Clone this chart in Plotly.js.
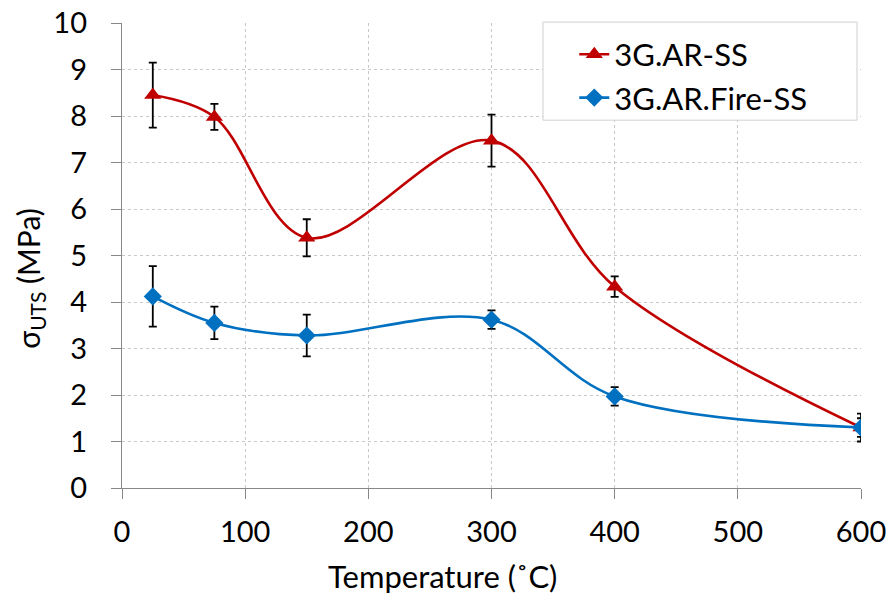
<!DOCTYPE html>
<html>
<head>
<meta charset="utf-8">
<script src="https://cdn.plot.ly/plotly-3.0.1.min.js"></script>
<style>html,body{margin:0;padding:0;background:#fff;}#chart{width:890px;height:596px;}</style>
</head>
<body>
<div id="chart"></div>
<script>
const temperature = [25, 75, 150, 300, 400, 600];
const arSS = [8.45, 7.98, 5.38, 7.47, 4.33, 1.30];
const arSSErr = [0.70, 0.28, 0.40, 0.56, 0.22, 0.30];
const arFireSS = [4.12, 3.55, 3.28, 3.62, 1.97, 1.30];
const arFireSSErr = [0.65, 0.35, 0.45, 0.20, 0.20, 0.20];
const xTicks = [0, 100, 200, 300, 400, 500, 600];
const yTicks = [0, 1, 2, 3, 4, 5, 6, 7, 8, 9, 10];
const xTitle = 'Temperature (˚C)';
const yTitle = 'σ<sub>UTS</sub> (MPa)';

const font = "Lato, 'Open Sans', sans-serif";

const traces = [
  {
    x: temperature, y: arSS, name: '3G.AR-SS', type: 'scatter', mode: 'lines+markers',
    line: {color: '#C00000', width: 2.6, shape: 'spline', smoothing: 1},
    marker: {symbol: 'triangle-up', size: 15, color: '#C00000'},
    error_y: {type: 'data', array: arSSErr, visible: true, color: '#000', thickness: 1.8, width: 4}
  },
  {
    x: temperature, y: arFireSS, name: '3G.AR.Fire-SS', type: 'scatter', mode: 'lines+markers',
    line: {color: '#0070C0', width: 2.6, shape: 'spline', smoothing: 1},
    marker: {symbol: 'diamond', size: 14, color: '#0070C0'},
    error_y: {type: 'data', array: arFireSSErr, visible: true, color: '#000', thickness: 1.8, width: 4}
  }
];

const layout = {
  width: 890, height: 596,
  margin: {l: 122, r: 29, t: 23, b: 108},
  paper_bgcolor: '#fff', plot_bgcolor: '#fff',
  font: {family: font, size: 29, color: '#000'},
  showlegend: true,
  legend: {
    x: 0.612, y: 0.99, xanchor: 'left', yanchor: 'top',
    borderwidth: 0, bgcolor: 'rgba(0,0,0,0)',
    font: {family: font, size: 31, color: '#000'},
    itemwidth: 30, tracegroupgap: 6
  },
  shapes: [
    {type: 'rect', xref: 'paper', yref: 'paper', x0: 0.5697, x1: 0.9946, y0: 0.791, y1: 1.002,
     line: {color: '#d0d0d0', width: 1}, fillcolor: '#fff', layer: 'above'}
  ],
  xaxis: {
    range: [0, 600], tickvals: xTicks, ticktext: xTicks.map(String),
    showgrid: true, gridcolor: '#c8c8c8', griddash: 'dot', gridwidth: 1,
    showline: true, linecolor: '#888', linewidth: 1.2,
    ticks: 'outside', ticklen: 10, tickcolor: '#888',
    zeroline: false, ticklabelstandoff: 8,
    tickfont: {family: font, size: 29}
  },
  yaxis: {
    range: [0, 10], tickvals: yTicks, ticktext: yTicks.map(String),
    showgrid: true, gridcolor: '#c8c8c8', griddash: 'dot', gridwidth: 1,
    showline: true, linecolor: '#888', linewidth: 1.2,
    ticks: 'outside', ticklen: 10, tickcolor: '#888',
    zeroline: false, ticklabelstandoff: 18,
    tickfont: {family: font, size: 29}
  },
  annotations: [
    {text: xTitle, xref: 'paper', yref: 'paper', x: 0.434, y: -0.19,
     xanchor: 'center', yanchor: 'middle', showarrow: false,
     font: {family: font, size: 31, color: '#000'}},
    {text: yTitle, xref: 'paper', yref: 'paper', x: -0.1245, y: 0.452,
     xanchor: 'center', yanchor: 'middle', showarrow: false, textangle: -90,
     font: {family: font, size: 30, color: '#000'}}
  ]
};

Plotly.newPlot('chart', traces, layout, {displayModeBar: false, staticPlot: true});
</script>
</body>
</html>
